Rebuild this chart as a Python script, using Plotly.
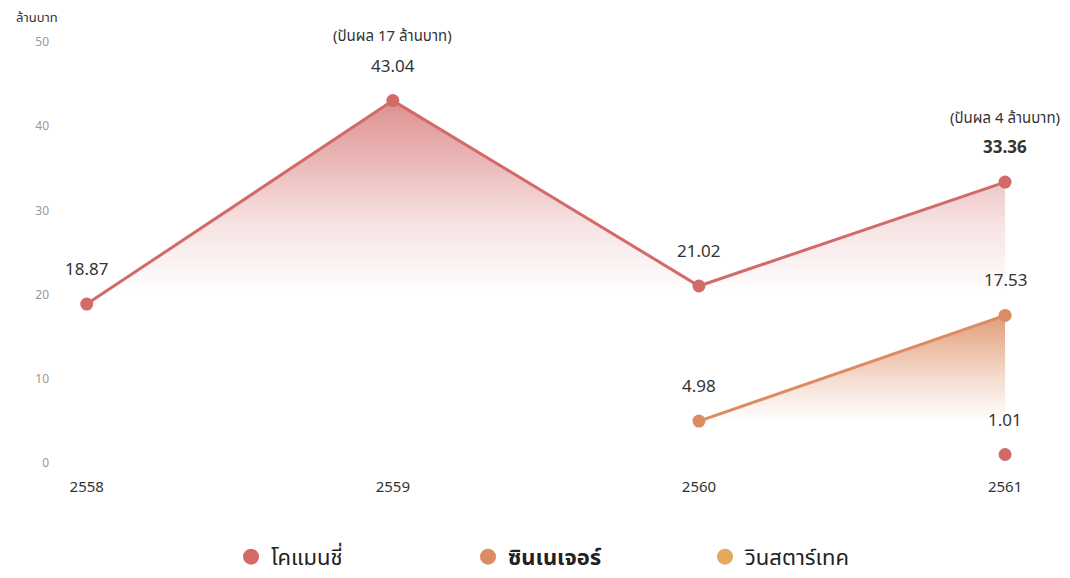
import plotly.graph_objects as go

years = ["2558", "2559", "2560", "2561"]
comanche = [18.87, 43.04, 21.02, 33.36]
synergy_years = ["2560", "2561"]
synergy = [4.98, 17.53]
winstar_years = ["2561"]
winstar = [1.01]
series_names = ["โคแมนชี่", "<b>ซินเนเจอร์</b>", "วินสตาร์เทค"]
dividend_notes = {"2559": "(ปันผล 17 ล้านบาท)", "2561": "(ปันผล 4 ล้านบาท)"}
y_ticks = [0, 10, 20, 30, 40, 50]

RED = "#d36a6a"
ORANGE = "#dd8c62"
YELLOW = "#e4a95b"
FONT = "'Noto Sans Thai', 'Noto Sans', 'Open Sans', sans-serif"

xi = {y: i for i, y in enumerate(years)}

fig = go.Figure()

fig.add_trace(go.Scatter(
    x=[xi[y] for y in years], y=comanche, mode="lines+markers",
    line=dict(color=RED, width=3), marker=dict(color=RED, size=13),
    fill="tozeroy",
    fillgradient=dict(type="vertical", start=20, stop=43.04,
                      colorscale=[[0, "rgba(211,106,106,0)"], [0.35, "rgba(211,106,106,0.18)"],
                                  [1, "rgba(211,106,106,0.75)"]]),
    showlegend=False, cliponaxis=False, hoverinfo="skip"))

fig.add_trace(go.Scatter(
    x=[xi[y] for y in synergy_years], y=synergy, mode="lines+markers",
    line=dict(color=ORANGE, width=3), marker=dict(color=ORANGE, size=13),
    fill="tozeroy",
    fillgradient=dict(type="vertical", start=5, stop=17.53,
                      colorscale=[[0, "rgba(221,140,98,0)"], [0.4, "rgba(221,140,98,0.3)"],
                                  [1, "rgba(221,140,98,0.85)"]]),
    showlegend=False, cliponaxis=False, hoverinfo="skip"))

fig.add_trace(go.Scatter(
    x=[xi[y] for y in winstar_years], y=winstar, mode="markers",
    marker=dict(color=RED, size=13),
    showlegend=False, cliponaxis=False, hoverinfo="skip"))

# legend entries
for name, col in zip(series_names, [RED, ORANGE, YELLOW]):
    fig.add_trace(go.Scatter(x=[None], y=[None], mode="markers", name=name,
                             marker=dict(color=col, size=20)))

# value labels
labels = []
for yr, v in zip(years, comanche):
    labels.append((xi[yr], v, f"{v:.2f}", yr == "2561"))
for yr, v in zip(synergy_years, synergy):
    labels.append((xi[yr], v, f"{v:.2f}", False))
for yr, v in zip(winstar_years, winstar):
    labels.append((xi[yr], v, f"{v:.2f}", False))

for x, v, t, bold in labels:
    fig.add_annotation(x=x, y=v, text=f"<b>{t}</b>" if bold else t, showarrow=False,
                       yshift=34, font=dict(size=17, color="#333333", family=FONT))

for yr, note in dividend_notes.items():
    v = comanche[years.index(yr)]
    fig.add_annotation(x=xi[yr], y=v, text=note, showarrow=False, yshift=64,
                       font=dict(size=15, color="#333333", family=FONT))

fig.add_annotation(xref="paper", yref="paper", x=-0.036, y=1.0, yshift=12,
                   xanchor="left", yanchor="bottom", text="ล้านบาท", showarrow=False,
                   font=dict(size=13, color="#333333", family=FONT))

fig.update_layout(
    width=1062, height=570,
    margin=dict(l=42, r=19, t=34, b=115),
    paper_bgcolor="white", plot_bgcolor="white",
    font=dict(family=FONT),
    xaxis=dict(range=[-0.12, 3.15], tickmode="array", tickvals=[xi[y] for y in years],
               ticktext=years, showgrid=False, zeroline=False, showline=False,
               ticks="outside", ticklen=10, tickcolor="white", automargin=False,
               tickfont=dict(size=15, color="#333333", family=FONT)),
    yaxis=dict(range=[0, 50], tickvals=y_ticks, showgrid=False, zeroline=False,
               showline=False, automargin=False,
               tickfont=dict(size=12, color="#999999", family=FONT)),
    legend=dict(orientation="h", x=0.536, xanchor="center", yref="container", y=0.037,
                yanchor="middle", entrywidth=192,
                font=dict(size=22, color="#222222", family=FONT)),
)

fig.write_html("out.html")
